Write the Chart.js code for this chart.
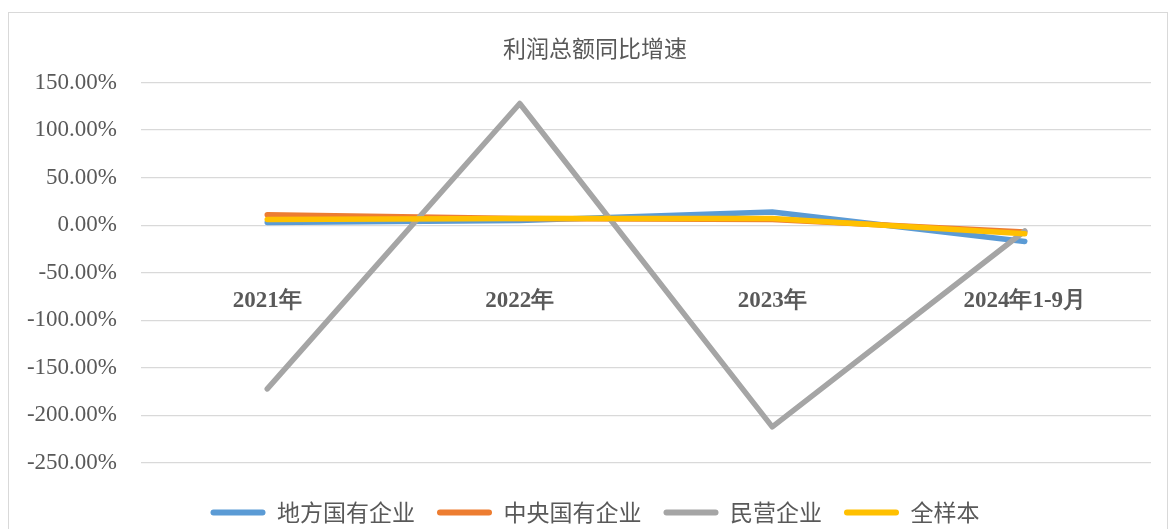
<!DOCTYPE html>
<html>
<head>
<meta charset="utf-8">
<script src="https://cdn.jsdelivr.net/npm/chart.js@4/dist/chart.umd.min.js"></script>
<style>
    html, body { margin: 0; padding: 0; background: #fff; overflow: hidden; }
    #wrap { position: relative; width: 1210px; height: 560px; }
    #frame { position: absolute; left: 8px; top: 12px; width: 1158px; height: 600px; border: 1px solid #d9d9d9; pointer-events: none; }
</style>
</head>
<body>
<div id="wrap">
    <canvas id="chart-1" width="1210" height="560"></canvas>
    <div id="frame"></div>
</div>
<script>
// 利润总额同比增速 chart

const categories = ['2021年', '2022年', '2023年', '2024年1-9月'];
const seriesNames = ['地方国有企业', '中央国有企业', '民营企业', '全样本'];

// values in percent
const localSoe = [3, 5, 14, -17];
const centralSoe = [11, 7, 6, -7];
const privateEnt = [-172, 128, -212, -6];
const allSample = [6, 7, 7, -9];

const yTicks = [150, 100, 50, 0, -50, -100, -150, -200, -250];

const colors = ['#5B9BD5', '#ED7D31', '#A5A5A5', '#FFC000'];
const textColor = '#595959';

const seriesValues = [localSoe, centralSoe, privateEnt, allSample];

const datasets = seriesValues.map((values, i) => ({
    label: seriesNames[i],
    data: values,
    borderColor: colors[i],
    backgroundColor: colors[i],
    borderWidth: 5.5,
    borderCapStyle: 'round',
    borderJoinStyle: 'round',
    pointRadius: 0,
    tension: 0,
    fill: false,
    // later series on top, like excel
    order: seriesValues.length - i
}));

const ctx = document.getElementById('chart-1').getContext('2d');

new Chart(ctx, {
    type: 'line',
    data: {
        labels: categories,
        datasets: datasets
    },
    options: {
        responsive: false,
        animation: false,
        layout: {
            padding: { left: 0, right: 20, top: 0, bottom: 26 }
        },
        plugins: {
            title: {
                display: true,
                text: '利润总额同比增速',
                color: textColor,
                font: { family: '"Noto Sans CJK SC", sans-serif', size: 23, weight: 'normal' },
                padding: { top: 34, bottom: 21 }
            },
            legend: {
                position: 'bottom',
                labels: {
                    color: textColor,
                    font: { family: '"Noto Sans CJK SC", sans-serif', size: 23 },
                    boxWidth: 55,
                    boxHeight: 6,
                    useBorderRadius: true,
                    borderRadius: 3,
                    padding: 22,
                    generateLabels: chart => {
                        const items = Chart.defaults.plugins.legend.labels.generateLabels(chart);
                        items.forEach(item => { item.lineWidth = 0; });
                        return items;
                    },
                    sort: (a, b) => a.datasetIndex - b.datasetIndex
                }
            },
            tooltip: { enabled: false }
        },
        scales: {
            x: {
                type: 'category',
                position: { y: -50 },
                offset: true,
                grid: { display: false },
                border: { display: false },
                ticks: {
                    color: textColor,
                    padding: 6,
                    font: { family: '"Liberation Serif", serif', size: 23, weight: 'bold' }
                }
            },
            // empty axes only keep space free
            gap: {
                type: 'category',
                position: 'bottom',
                grid: { display: false },
                border: { display: false },
                ticks: { display: false },
                afterFit: s => { s.height = 16; }
            },
            gapRight: {
                type: 'linear',
                position: 'right',
                grid: { display: false },
                border: { display: false },
                ticks: { display: false },
                afterFit: s => { s.width = 39; }
            },
            y: {
                min: -250,
                max: 150,
                afterBuildTicks: s => { s.ticks = yTicks.map(v => ({ value: v })); },
                afterFit: s => { s.width = 141; },
                grid: { color: '#d9d9d9', lineWidth: 1.3, drawTicks: false },
                border: { display: false },
                ticks: {
                    color: textColor,
                    padding: 24,
                    font: { family: '"Liberation Serif", serif', size: 23 },
                    callback: v => v.toFixed(2) + '%'
                }
            }
        }
    }
});
</script>
</body>
</html>
